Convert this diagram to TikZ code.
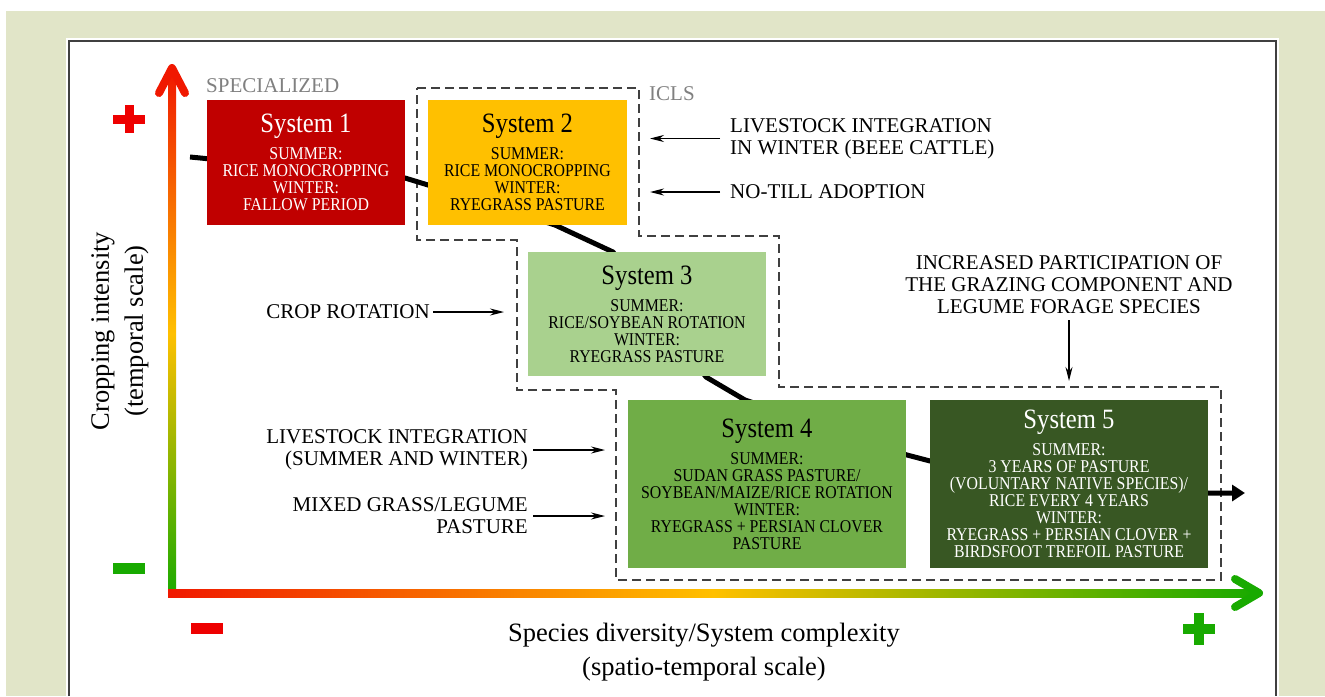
\documentclass[tikz,border=0pt]{standalone}
\usepackage{fontspec}
\setmainfont{Liberation Serif}
\newfontfamily\boxfont[FakeStretch=0.88]{Liberation Serif}
\usepackage{tikz}
\usetikzlibrary{shapes,arrows,arrows.meta,positioning}

\definecolor{pagegreen}{RGB}{225,229,200}
\definecolor{sysred}{RGB}{192,0,0}
\definecolor{sysamber}{RGB}{255,192,0}
\definecolor{syslight}{RGB}{169,209,142}
\definecolor{sysmid}{RGB}{112,173,71}
\definecolor{sysdark}{RGB}{56,87,35}
\definecolor{axisred}{RGB}{240,24,0}
\definecolor{signred}{RGB}{238,0,0}
\definecolor{axisyellow}{RGB}{255,192,0}
\definecolor{axisgreen}{RGB}{24,170,0}
\definecolor{labelgray}{RGB}{128,128,128}
\definecolor{dashgray}{RGB}{64,64,64}

\tikzset{
	sysbox/.style={rectangle, inner sep=0pt, align=center, font=\boxfont\fontsize{18}{17}\selectfont},
	note/.style={inner sep=0pt, font=\fontsize{21}{22}\selectfont},
	noteleft/.style={note, align=left},
	noteright/.style={note, align=right},
	notearrow/.style={-{Stealth[length=14pt,width=7pt]}, line width=1.3pt},
	grouplabel/.style={inner sep=0pt, text=labelgray, font=\fontsize{21}{22}\selectfont},
	axislabel/.style={inner sep=0pt, align=center, font=\fontsize{26.5}{34}\selectfont},
	axishead/.style={line width=8pt, line cap=round, line join=round},
}
\newcommand{\systitle}[1]{{\fontsize{28}{28}\selectfont #1}\\[8pt]}

\begin{document}
\begin{tikzpicture}[x=1pt, y=-1pt]
				\useasboundingbox (0,0) rectangle (1325,696);
				\fill [pagegreen] (6,11) rectangle (1325,696);
				\fill [white] (66,38) rectangle (1279,696);
				\draw [dashgray, line width=2pt] (69,696) -- (69,41) -- (1276,41) -- (1276,696);

				\shade [top color=axisred, bottom color=axisgreen, middle color=axisyellow] (168,70) rectangle (176,597);
				\shade [left color=axisred, right color=axisgreen, middle color=axisyellow] (168,589) rectangle (1258,597);
				\draw [axishead, axisred] (159,93) -- (172,68) -- (185,93);
				\draw [axishead, axisgreen] (1235,579) -- (1259,593) -- (1235,607);

				\fill [signred] (113,115) rectangle (145,124);
				\fill [signred] (125,105) rectangle (134,133);
				\fill [axisgreen] (113,563) rectangle (145,574);
				\fill [signred] (191,623) rectangle (223,634);
				\fill [axisgreen] (1183,624) rectangle (1215,634);
				\fill [axisgreen] (1194,613) rectangle (1204,645);

				\draw [dashgray, line width=1.5pt, dash pattern=on 9pt off 5pt] (417,88) -- (639,88) -- (639,236) -- (779,236) -- (779,387) -- (1221,387) -- (1221,580) -- (616,580) -- (616,390) -- (517,390) -- (517,240) -- (417,240) -- cycle;

				\coordinate (trendstart) at (190,157);
				\coordinate (trendend) at (1245,493);
				\draw [line width=5pt, line join=round, -{Triangle[length=13pt,width=16pt]}] (trendstart) -- (405,178) -- (428,185) -- (555,225) -- (613,252) -- (706,377) -- (745,400) -- (907,455) -- (930,461) -- (1208,493) -- (trendend);

				\node [sysbox, fill=sysred, text=white, minimum width=198pt, minimum height=125pt] (sys1) at (306,162.5) {\systitle{System 1}SUMMER:\\RICE MONOCROPPING\\WINTER:\\FALLOW PERIOD};
				\node [sysbox, fill=sysamber, minimum width=199pt, minimum height=125pt] (sys2) at (527.5,162.5) {\systitle{System 2}SUMMER:\\RICE MONOCROPPING\\WINTER:\\RYEGRASS PASTURE};
				\node [sysbox, fill=syslight, minimum width=238pt, minimum height=124pt] (sys3) at (647,314) {\systitle{System 3}SUMMER:\\RICE/SOYBEAN ROTATION\\WINTER:\\RYEGRASS PASTURE};
				\node [sysbox, fill=sysmid, minimum width=278pt, minimum height=168pt] (sys4) at (767,484) {\systitle{System 4}SUMMER:\\SUDAN GRASS PASTURE/\\SOYBEAN/MAIZE/RICE ROTATION\\WINTER:\\RYEGRASS + PERSIAN CLOVER\\PASTURE};
				\node [sysbox, fill=sysdark, text=white, minimum width=278pt, minimum height=168pt] (sys5) at (1069,484) {\systitle{System 5}SUMMER:\\3 YEARS OF PASTURE\\(VOLUNTARY NATIVE SPECIES)/\\RICE EVERY 4 YEARS\\WINTER:\\RYEGRASS + PERSIAN CLOVER +\\BIRDSFOOT TREFOIL PASTURE};

				\node [grouplabel, anchor=west] (specialized) at (206,86) {SPECIALIZED};
				\node [grouplabel, anchor=west] (icls) at (649,94) {ICLS};

				\node [noteleft, anchor=west] (livewinter) at (730,138.5) {LIVESTOCK INTEGRATION\\IN WINTER (BEEE CATTLE)};
				\coordinate (livewinterend) at (650,138.5);
				\draw [notearrow, shorten <=10pt] (livewinter.west) -- (livewinterend);
				\node [noteleft, anchor=west] (notill) at (730,192) {NO-TILL ADOPTION};
				\coordinate (notillend) at (650,192);
				\draw [notearrow, shorten <=10pt] (notill.west) -- (notillend);

				\node [noteright, anchor=east] (croprot) at (430,312) {CROP ROTATION};
				\coordinate (croprotend) at (504,312);
				\draw [notearrow, shorten <=3pt] (croprot.east) -- (croprotend);
				\node [noteright, anchor=east] (liveboth) at (528,450) {LIVESTOCK INTEGRATION\\(SUMMER AND WINTER)};
				\coordinate (livebothend) at (605,450);
				\draw [notearrow, shorten <=5pt] (liveboth.east) -- (livebothend);
				\node [noteright, anchor=east] (mixed) at (528,516) {MIXED GRASS/LEGUME\\PASTURE};
				\coordinate (mixedend) at (605,516);
				\draw [notearrow, shorten <=5pt] (mixed.east) -- (mixedend);

				\node [note, align=center] (grazing) at (1069,285) {INCREASED PARTICIPATION OF\\THE GRAZING COMPONENT AND\\LEGUME FORAGE SPECIES};
				\coordinate (grazingend) at (1069,381);
				\draw [notearrow, shorten <=6pt] (grazing.south) -- (grazingend);

				\node [axislabel, rotate=90] (ylabel) at (120,331) {Cropping intensity\\(temporal scale)};
				\node [axislabel] (xlabel) at (704,652) {Species diversity/System complexity\\(spatio-temporal scale)};
				\end{tikzpicture}
\end{document}
